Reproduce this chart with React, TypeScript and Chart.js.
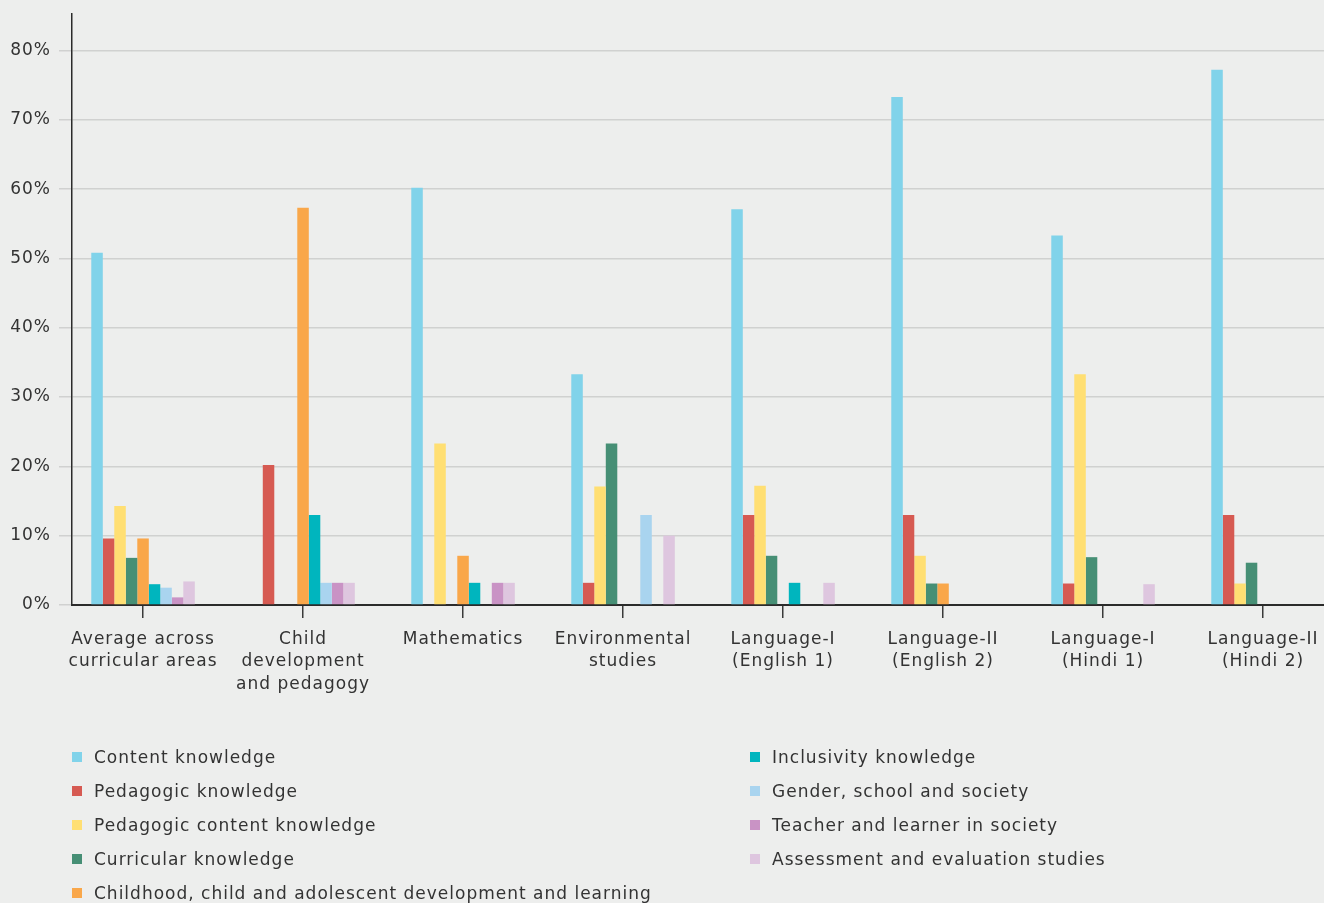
import React, { useEffect, useRef } from "react";
import { Chart, registerables } from "chart.js";

Chart.register(...registerables);

const categories: string[][] = [
  ["Average across", "curricular areas"],
  ["Child", "development", "and pedagogy"],
  ["Mathematics"],
  ["Environmental", "studies"],
  ["Language-I", "(English 1)"],
  ["Language-II", "(English 2)"],
  ["Language-I", "(Hindi 1)"],
  ["Language-II", "(Hindi 2)"],
];

const seriesNames = [
  "Content knowledge",
  "Pedagogic knowledge",
  "Pedagogic content knowledge",
  "Curricular knowledge",
  "Childhood, child and adolescent development and learning",
  "Inclusivity knowledge",
  "Gender, school and society",
  "Teacher and learner in society",
  "Assessment and evaluation studies",
];

const seriesColors = [
  "#81D3EA",
  "#D65A52",
  "#FFDF73",
  "#468F75",
  "#F9A74A",
  "#00B5BE",
  "#A9D4EF",
  "#C993C5",
  "#DEC6DF",
];

const contentKnowledge = [50.8, 0, 60.2, 33.3, 57.1, 73.3, 53.3, 77.2];
const pedagogicKnowledge = [9.6, 20.2, 0, 3.2, 13.0, 13.0, 3.1, 13.0];
const pedagogicContent = [14.3, 0, 23.3, 17.1, 17.2, 7.1, 33.3, 3.1];
const curricularKnowledge = [6.8, 0, 0, 23.3, 7.1, 3.1, 6.9, 6.1];
const childhoodDevelopment = [9.6, 57.3, 7.1, 0, 0, 3.1, 0, 0];
const inclusivityKnowledge = [3.0, 13.0, 3.2, 0, 3.2, 0, 0, 0];
const genderSchool = [2.5, 3.2, 0, 13.0, 0, 0, 0, 0];
const teacherLearner = [1.1, 3.2, 3.2, 0, 0, 0, 0, 0];
const assessmentStudies = [3.4, 3.2, 3.2, 10.0, 3.2, 0, 3.0, 0];

const seriesValues = [
  contentKnowledge,
  pedagogicKnowledge,
  pedagogicContent,
  curricularKnowledge,
  childhoodDevelopment,
  inclusivityKnowledge,
  genderSchool,
  teacherLearner,
  assessmentStudies,
];

const yTicks = [0, 10, 20, 30, 40, 50, 60, 70, 80];

const BG = "#EDEEED";
const TEXT = "#333333";
const FONT = "'DejaVu Sans', sans-serif";
const LETTER_SPACING = "1px";

const spacingPlugin = {
  id: "letterSpacing",
  beforeInit: (chart: any) => {
    chart.ctx.letterSpacing = LETTER_SPACING;
  },
  beforeUpdate: (chart: any) => {
    chart.ctx.letterSpacing = LETTER_SPACING;
  },
  beforeDraw: (chart: any) => {
    chart.ctx.letterSpacing = LETTER_SPACING;
  },
};

export default function App() {
  const canvasRef = useRef<HTMLCanvasElement | null>(null);

  useEffect(() => {
    const canvas = canvasRef.current;
    if (!canvas) return;
    const chart = new Chart(canvas, {
      type: "bar",
      plugins: [spacingPlugin],
      data: {
        datasets: seriesValues.map((vals, si) => ({
          label: seriesNames[si],
          data: vals.map((v, i) => ({ x: i, y: v })),
          backgroundColor: seriesColors[si],
          borderWidth: 0,
          categoryPercentage: 0.647,
          barPercentage: 1,
        })),
      },
      options: {
        animation: false,
        responsive: false,
        layout: { padding: { top: 14, left: 0, right: 0, bottom: 0 } },
        plugins: {
          legend: { display: false },
          tooltip: { enabled: false },
        },
        scales: {
          x: {
            type: "linear",
            offset: false,
            min: -0.444,
            max: 7.381,
            afterFit: (scale: any) => {
              scale.height = 298;
              scale.paddingLeft = 0;
              scale.paddingRight = 0;
            },
            afterBuildTicks: (scale: any) => {
              scale.ticks = categories.map((_, i) => ({ value: i }));
            },
            ticks: {
              includeBounds: false,
              stepSize: 1,
              autoSkip: false,
              maxRotation: 0,
              minRotation: 0,
              padding: 10,
              color: TEXT,
              font: { family: FONT, size: 17, lineHeight: 1.32 },
              callback: (v: any) => {
                const i = Math.round(Number(v));
                return categories[i] ?? "";
              },
            },
            grid: {
              offset: false,
              drawOnChartArea: false,
              drawTicks: true,
              tickLength: 13,
              color: "#3a3a3a",
              lineWidth: 1.5,
            },
            border: { display: true, color: "#2b2b2b", width: 2 },
          },
          y: {
            min: 0,
            max: 85.26,
            afterFit: (scale: any) => {
              scale.width = 72;
              scale.paddingTop = 0;
              scale.paddingBottom = 0;
            },
            afterBuildTicks: (scale: any) => {
              scale.ticks = yTicks.map((v) => ({ value: v }));
            },
            ticks: {
              includeBounds: false,
              stepSize: 10,
              padding: 8,
              color: TEXT,
              font: { family: FONT, size: 17 },
              callback: (v: any) => `${v}%`,
            },
            grid: {
              color: "#D0D1D0",
              lineWidth: 1.5,
              tickLength: 13,
            },
            border: { display: true, color: "#2b2b2b", width: 1.5 },
          },
        },
      },
    });
    return () => chart.destroy();
  }, []);

  const leftCol = seriesNames.slice(0, 5);
  const rightCol = seriesNames.slice(5);

  const legendItem = (name: string, color: string, left: number, top: number) => (
    <div
      key={name}
      style={{
        position: "absolute",
        left,
        top: top - 17,
        height: 34,
        display: "flex",
        alignItems: "center",
        whiteSpace: "nowrap",
        fontFamily: FONT,
        fontSize: 17,
        letterSpacing: LETTER_SPACING,
        color: TEXT,
      }}
    >
      <span
        style={{
          display: "inline-block",
          width: 10,
          height: 10,
          background: color,
          marginRight: 12,
        }}
      />
      <span>{name}</span>
    </div>
  );

  return (
    <div
      style={{
        position: "fixed",
        left: 0,
        top: 0,
        width: 1324,
        height: 903,
        overflow: "hidden",
        background: BG,
      }}
    >
      <canvas
        ref={canvasRef}
        width={1324}
        height={903}
        style={{ position: "absolute", left: 0, top: 0, width: 1324, height: 903, background: BG }}
      />
      {leftCol.map((n, i) => legendItem(n, seriesColors[i], 72, 757 + 34 * i))}
      {rightCol.map((n, i) => legendItem(n, seriesColors[i + 5], 750, 757 + 34 * i))}
    </div>
  );
}
